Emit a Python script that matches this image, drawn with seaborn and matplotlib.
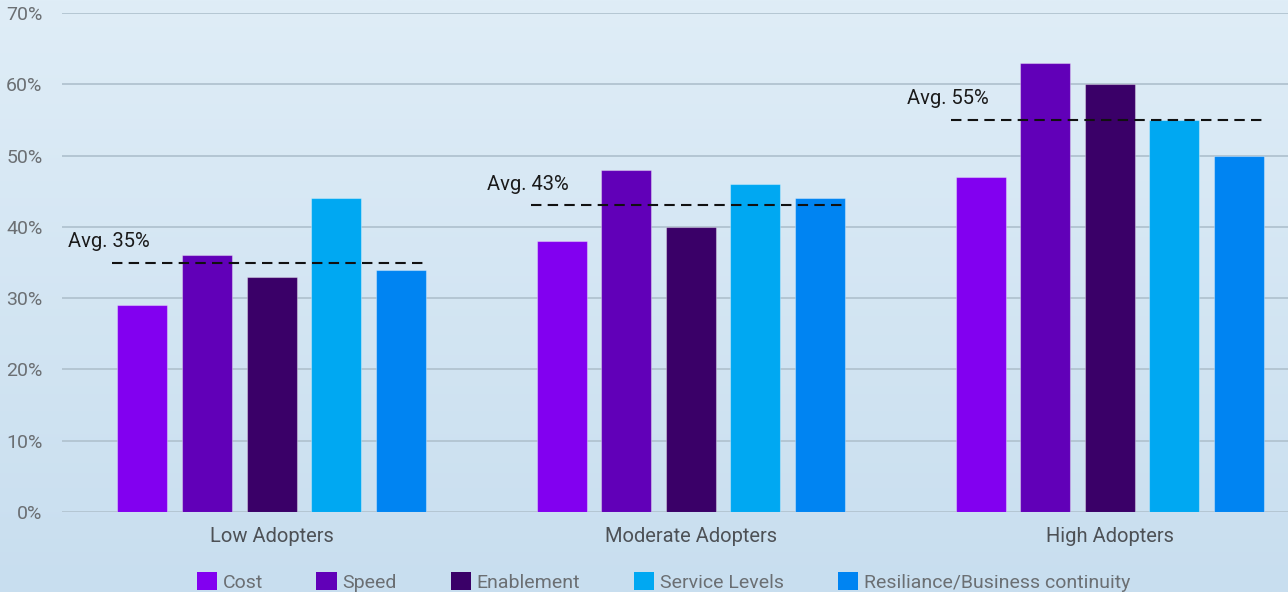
import numpy as np
import pandas as pd
import matplotlib
matplotlib.use("Agg")
import matplotlib.pyplot as plt
from matplotlib.patches import Patch
import seaborn as sns

groups = ["Low Adopters", "Moderate Adopters", "High Adopters"]
drivers = ["Cost", "Speed", "Enablement", "Service Levels", "Resiliance/Business continuity"]
cost = [29, 38, 47]
speed = [36, 48, 63]
enablement = [33, 40, 60]
service_levels = [44, 46, 55]
resilience = [34, 44, 50]
averages = [35, 43, 55]
avg_labels = ["Avg. 35%", "Avg. 43%", "Avg. 55%"]
y_ticks = [0, 10, 20, 30, 40, 50, 60, 70]

palette = ["#8200f0", "#6100b8", "#3a0068", "#00a8f2", "#0084f2"]

rows = []
for name, vals in zip(drivers, [cost, speed, enablement, service_levels, resilience]):
    for g, v in zip(groups, vals):
        rows.append({"group": g, "driver": name, "value": v})
df = pd.DataFrame(rows)

sns.set_theme(style="white")
plt.rcParams["font.family"] = ["Roboto", "DejaVu Sans"]

fig = plt.figure(figsize=(12.88, 5.92), dpi=100)

# soft blue gradient background
bg = fig.add_axes([0, 0, 1, 1], zorder=-10)
grad = np.linspace(0, 1, 256).reshape(-1, 1)
top = np.array([0xdf, 0xed, 0xf7]) / 255
bot = np.array([0xc8, 0xde, 0xef]) / 255
img = top + (bot - top) * grad[..., None]
img = np.repeat(img, 2, axis=1)
bg.imshow(img, aspect="auto", extent=[0, 1, 0, 1])
bg.axis("off")

ax = fig.add_axes([62 / 1288, 80 / 592, 1 - 62 / 1288, (512 - 13) / 592])
ax.set_facecolor("none")

sns.barplot(data=df, x="group", y="value", hue="driver", order=groups,
            hue_order=drivers, palette=palette, width=0.77, gap=0.225,
            edgecolor=(1, 1, 1, 0.35), linewidth=0.8, ax=ax, legend=False,
            saturation=1, zorder=3)

for i, (avg, lab) in enumerate(zip(averages, avg_labels)):
    ax.hlines(avg, i - 0.38, i + 0.37, colors="#111111", linestyles=(0, (5.0, 3.0)),
              linewidth=1.5, zorder=4)
    ax.text(i - 0.485, avg + 3, lab, ha="left", va="center", fontsize=14.5,
            color="#1a1a1a", zorder=5)

ax.set_ylim(0, 70)
ax.set_xlim(-0.5, 2.425)
ax.set_yticks(y_ticks)
ax.set_yticklabels([f"{t}%" for t in y_ticks])
ax.yaxis.grid(True, color="#b4c6d3", linewidth=1.4, zorder=0)
ax.set_axisbelow(True)
for s in ax.spines.values():
    s.set_visible(False)
ax.tick_params(axis="y", length=0, pad=14, labelsize=14, labelcolor="#6b6f73")
ax.tick_params(axis="x", length=0, pad=11, labelsize=14.5, labelcolor="#4d5156")
for t in ax.get_yticklabels():
    t.set_horizontalalignment("right")
ax.set_xlabel("")
ax.set_ylabel("")

handles = [Patch(facecolor=c, edgecolor="none", label=d) for c, d in zip(palette, drivers)]
fig.legend(handles=handles, loc="center", bbox_to_anchor=(0.515, 10 / 592), ncol=5,
           frameon=False, fontsize=14, handlelength=1.05, handleheight=1.05,
           handletextpad=0.3, columnspacing=2.75, labelcolor="#6b6f73")

fig.savefig("out.png", dpi=100)
